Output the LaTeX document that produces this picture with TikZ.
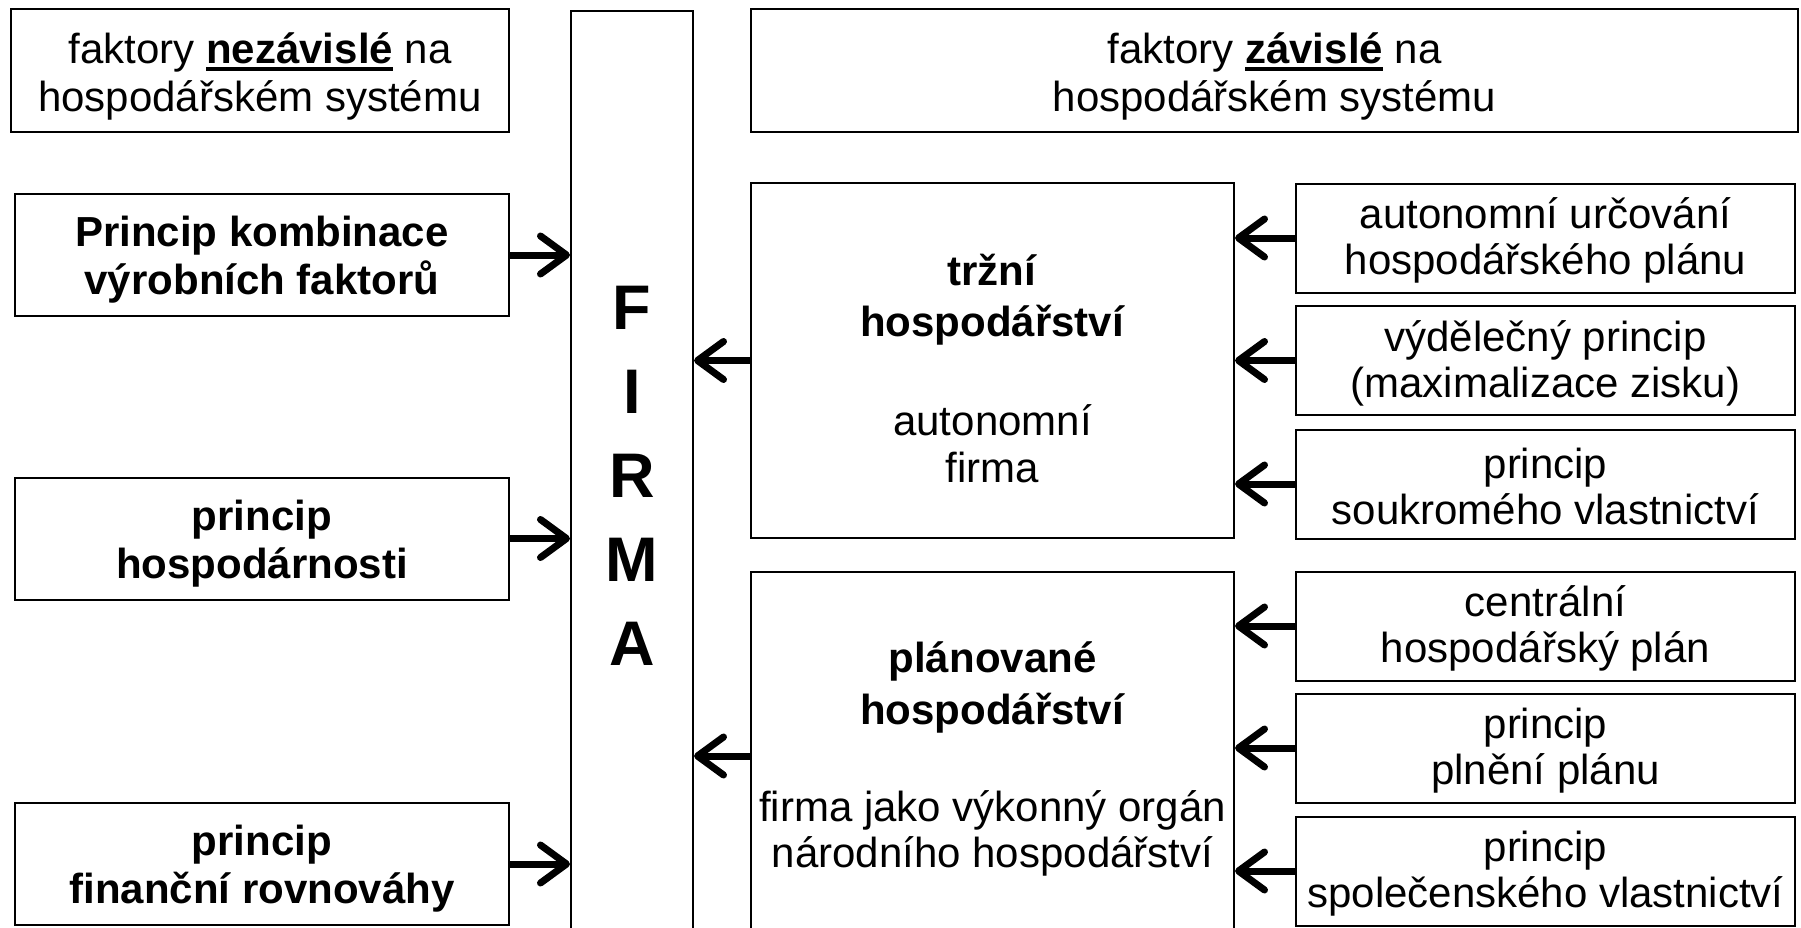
\documentclass[tikz,border=0pt]{standalone}
\usepackage{fontspec}
\setmainfont{Liberation Sans}
\usepackage{tikz}
\usetikzlibrary{%
        math,
        arrows.meta, % 箭头
    }
% 粗体 + 下划线
\newcommand{\ulbf}[1]{%
    \setbox0\hbox{\bfseries #1}%
    \rlap{\vrule height -3pt depth 7pt width \wd0}\box0\relax}
% 第一行的支柱 (文字往下移)
\newcommand{\topgap}[1]{\rule{0pt}{#1pt}}

\begin{document}
\begin{tikzpicture}[x=1pt, y=-1pt, line width=2pt]
    \tikzmath{%
        % 左列
        \xL=260;
        \wL=498;
        \xP=262;
        \wP=494;
        \hL=122;
        % FIRMA
        \xF=632;
        \yF=475.5;
        \wF=122;
        \hF=929;
        % 中间
        \xM=992.5;
        \wM=483;
        % 右列
        \xR=1545.5;
        \wR=499;
        \hR=109;
        % 顶部
        \xT=1274.5;
        \yT=70.5;
        \wT=1047;
        \hT=123;
    };

    \tikzset{%
        plainbox/.style={draw, inner sep=0pt, align=center, font=\fontsize{42}{48}\selectfont},
        boldbox/.style={plainbox, font=\fontsize{42}{48}\selectfont\bfseries},
        smallbox/.style={plainbox, font=\fontsize{42}{46}\selectfont},
        thickarrow/.style={line width=7pt, -{Straight Barb[length=26pt, width=38pt, round]}},
    }

    \useasboundingbox (0, 0) rectangle (1801, 927);

    % 左列
    \node (nez) [plainbox, minimum width=\wL pt, minimum height=\hT pt] at (\xL, \yT)
    {\topgap{43}faktory \ulbf{nezávislé} na\\hospodářském systému};
    \node (komb) [boldbox, minimum width=\wP pt, minimum height=\hL pt] at (\xP, 255)
    {\topgap{40}Princip kombinace\\výrobních faktorů};
    \node (hosp) [boldbox, minimum width=\wP pt, minimum height=\hL pt] at (\xP, 538.5)
    {\topgap{40}princip\\hospodárnosti};
    \node (fin) [boldbox, minimum width=\wP pt, minimum height=\hL pt] at (\xP, 864)
    {\topgap{40}princip\\finanční rovnováhy};

    % FIRMA
    \node (firma) [plainbox, font=\fontsize{63}{84}\selectfont\bfseries, minimum width=\wF pt, minimum height=\hF pt] at (\xF, \yF)
    {F\\I\\R\\M\\A};

    % 中间
    \node (zav) [plainbox, minimum width=\wT pt, minimum height=\hT pt] at (\xT, \yT)
    {\topgap{43}faktory \ulbf{závislé} na\\hospodářském systému};
    \node (trzni) [plainbox, minimum width=\wM pt, minimum height=355pt] at (\xM, 360.5)
    {\topgap{47}\textbf{tržní}\\[3pt]\textbf{hospodářství}\\[51pt]autonomní\\[-1pt]firma};
    \node (plan) [plainbox, minimum width=\wM pt, minimum height=368pt] at (\xM, 756)
    {\topgap{36}\textbf{plánované}\\[4pt]\textbf{hospodářství}\\[49pt]firma jako výkonný orgán\\[-2pt]národního hospodářství};

    % 右列
    \foreach \name/\y/\ziel/\txt in {%
            r1/238/trzni/{autonomní určování\\hospodářského plánu},
            r2/360.5/trzni/{výdělečný princip\\(maximalizace zisku)},
            r3/484/trzni/{princip\\soukromého vlastnictví},
            r4/626/plan/{centrální\\hospodářský plán},
            r5/748/plan/{princip\\plnění plánu},
            r6/871/plan/{princip\\společenského vlastnictví}} {%
            \node (\name) [smallbox, minimum width=\wR pt, minimum height=\hR pt] at (\xR, \y) {\topgap{36}\txt};
            \draw [thickarrow] (\name) -- (\name -| \ziel.east);
        }

    % arrows
    \foreach \name in {komb, hosp, fin} {%
            \draw [thickarrow] (\name) -- (\name -| firma.west);
        }
    \draw [thickarrow] (trzni) -- (trzni -| firma.east);
    \draw [thickarrow] (plan) -- (plan -| firma.east);
\end{tikzpicture}
\end{document}
